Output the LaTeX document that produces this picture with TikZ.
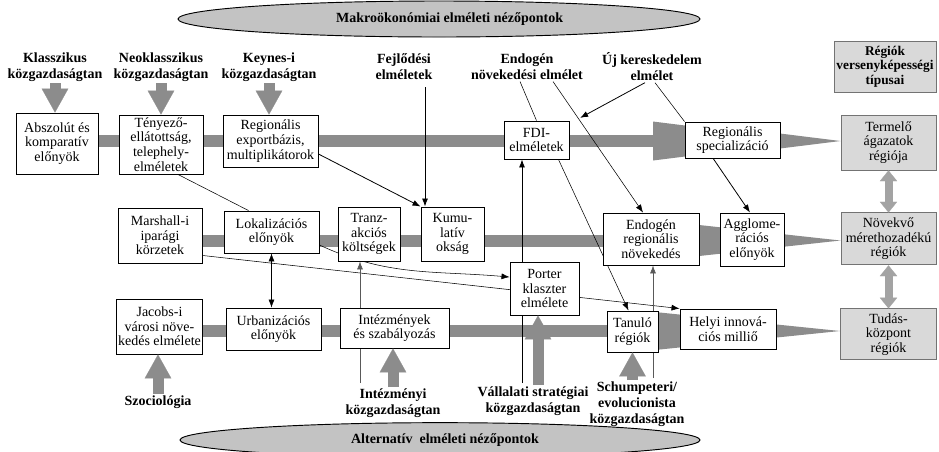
\documentclass[tikz,border=0pt]{standalone}
\usepackage{fontspec}
\setmainfont{Liberation Serif}
\usetikzlibrary{arrows.meta,positioning,shapes.geometric,backgrounds}
\definecolor{bandgray}{RGB}{140,140,140}
\definecolor{boxgray}{RGB}{217,217,217}
\definecolor{ovalgray}{RGB}{195,195,195}
\tikzset{
    box/.style={draw,fill=white,line width=0.7pt,align=center,inner sep=1pt,
        font=\fontsize{10.5}{11}\selectfont},
    greybox/.style={box,fill=boxgray,draw=black!55},
    src/.style={align=center,inner sep=1pt,font=\fontsize{10.5}{12}\selectfont\bfseries},
    oval/.style={ellipse,draw,fill=ovalgray,line width=0.7pt,inner sep=0pt},
    ovaltext/.style={font=\fontsize{10.5}{12}\selectfont\bfseries},
    band/.style={draw=bandgray,line width=9pt},
    head/.style={fill=bandgray},
    blk/.style={draw=bandgray,line width=8.25pt,
        -{Triangle[length=18pt,width=20pt,line width=0.1pt]}},
    dblblk/.style={draw=bandgray!80,line width=6pt,
        {Triangle[length=8pt,width=13pt,line width=0.1pt]}-{Triangle[length=8pt,width=13pt,line width=0.1pt]}},
    pre/.style={-{Latex[length=6pt,width=4.5pt]}},
    both/.style={{Latex[length=6pt,width=4.5pt]}-{Latex[length=6pt,width=4.5pt]}},
    ln/.style={thin}
}

\begin{document}
\begin{tikzpicture}[x=0.75pt,y=-0.75pt]
    \useasboundingbox (0,0) rectangle (939,451);

    % viewpoints
    \node[oval,minimum width=391.5pt,minimum height=27pt,
        label={[ovaltext,xshift=8pt]center:Makroökonómiai elméleti nézőpontok}] (makro) at (439,19) {};
    \node[oval,minimum width=390pt,minimum height=26pt,
        label={[ovaltext,xshift=3.75pt]center:Alternatív\ \ elméleti nézőpontok}] (altern) at (440,440) {};

    % schools
    \node[src] (klassz) at (55,67)  {Klasszikus\\közgazdaságtan};
    \node[src] (neo)    at (161,67) {Neoklasszikus\\közgazdaságtan};
    \node[src] (keynes) at (269,67) {Keynes-i\\közgazdaságtan};
    \node[src] (fejl)   at (404,67) {Fejlődési\\elméletek};
    \node[src] (endnov) at (527,67) {Endogén\\növekedési elmélet};
    \node[src] (ujker)  at (652,67) {Új kereskedelem\\elmélet};
    \node[src] (szoc)   at (158,402) {Szociológia};
    \node[src] (intezm) at (393,403) {Intézményi\\közgazdaságtan};
    \node[src] (vall)   at (533,401) {Vállalati stratégiai\\közgazdaságtan};
    \node[src] (schump) at (637,404) {Schumpeteri/\\evolucionista\\közgazdaságtan};

    % row 1
    \node[box,minimum width=61.5pt,minimum height=45.75pt] (absz)    at (57,143.5)  {Abszolút és\\komparatív\\előnyök};
    \node[box,minimum width=63pt,minimum height=44.25pt]   (teny)    at (161,144.5) {Tényező-\\ellátottság,\\telephely-\\elméletek};
    \node[box,minimum width=71.25pt,minimum height=39pt]   (regexp)  at (270.5,141) {Regionális\\exportbázis,\\multiplikátorok};
    \node[box,minimum width=48.75pt,minimum height=28.5pt] (fdi)     at (536.5,140) {FDI-\\elméletek};
    \node[box,minimum width=71.25pt,minimum height=27pt]   (regspec) at (732.5,140) {Regionális\\specializáció};

    % row 2
    \node[box,minimum width=63pt,minimum height=41.25pt]   (marsh)  at (160,235.5) {Marshall-i\\iparági\\körzetek};
    \node[box,minimum width=71.25pt,minimum height=31.5pt] (lokal)  at (271.5,232) {Lokalizációs\\előnyök};
    \node[box,minimum width=46.5pt,minimum height=40.5pt]  (tranz)  at (369,234)   {Tranz-\\akciós\\költségek};
    \node[box,minimum width=47.25pt,minimum height=40.5pt] (kumul)  at (452.5,234) {Kumu-\\latív\\okság};
    \node[box,minimum width=72pt,minimum height=39pt]      (endreg) at (651,239)   {Endogén\\regionális\\növekedés};
    \node[box,minimum width=48pt,minimum height=39.75pt]   (agglo)  at (752,239.5) {Agglome-\\rációs\\előnyök};

    % row 3
    \node[box,minimum width=63.75pt,minimum height=41.25pt] (jacobs) at (159.5,326.5) {Jacobs-i\\városi növe-\\kedés elmélete};
    \node[box,minimum width=71.25pt,minimum height=31.5pt]  (urban)  at (273.5,329)   {Urbanizációs\\előnyök};
    \node[box,minimum width=81.75pt,minimum height=30pt]    (intez)  at (394.5,328)   {Intézmények\\és szabályozás};
    \node[box,minimum width=51.75pt,minimum height=39.75pt] (porter) at (544.5,288.5) {Porter\\klaszter\\elmélete};
    \node[box,minimum width=38.25pt,minimum height=30.75pt] (tanulo) at (632.5,331.5) {Tanuló\\régiók};
    \node[box,minimum width=72pt,minimum height=30pt]       (helyi)  at (728,329)     {Helyi innová-\\ciós milliő};

    % region types
    \node[greybox,font=\fontsize{10}{11}\selectfont\bfseries,minimum width=76.5pt,minimum height=38.25pt] (tipus) at (885,66.5) {Régiók\\versenyképességi\\típusai};
    \node[greybox,minimum width=71.25pt,minimum height=41.25pt] (termelo) at (888.5,142.5) {Termelő\\ágazatok\\régiója};
    \node[greybox,minimum width=71.25pt,minimum height=39pt] (novekvo) [below=31.5pt of termelo] {Növekvő\\mérethozadékú\\régiók};
    \node[greybox,minimum width=72pt,minimum height=38.25pt] (tudas) [below=32.25pt of novekvo] {Tudás-\\központ\\régiók};

    \coordinate (row1) at (0,141);
    \coordinate (row2) at (0,240.5);
    \coordinate (row3) at (0,331);
    \coordinate (f1) at (425,87);
    \coordinate (i1) at (360,383);
    \coordinate (v1) at (522,383);
    \coordinate (s1) at (653,378);
    \coordinate (va) at ([xshift=3.75pt]vall.north);

    \begin{pgfonlayer}{background}
        % broad arrows of the rows
        \draw[band] (absz.east |- row1) -- (653,141);
        \fill[head] (653,121.5) -- (685,125.5) -- (685,156.5) -- (653,160.5) -- cycle;
        \fill[head] (780,133.5) -- (termelo.west |- row1) -- (780,148.5) -- cycle;
        \draw[band] (marsh.east |- row2) -- (640,240.5);
        \fill[head] (640,218.5) -- (novekvo.west |- row2) -- (640,262.5) -- cycle;
        \draw[band] (jacobs.east |- row3) -- (650,331);
        \fill[head] (650,311.5) -- (tudas.west |- row3) -- (650,350.5) -- cycle;

        % links
        \draw[pre,semithick] (f1) -- (f1 |- kumul.north);
        \draw[pre,semithick] ([yshift=-9.75pt]regexp.east) -- (kumul.north west);
        \draw[ln] ([xshift=12.75pt]teny.south) -- ([xshift=-17.25pt]lokal.north);
        \draw[ln] ([xshift=-5.25pt]endnov.south) -- (fdi.north);
        \draw[pre] ([xshift=19.5pt]endnov.south) -- ([xshift=-6pt]endreg.north);
        \draw[pre,semithick] ([xshift=-5.25pt]ujker.south) -- ([xshift=8pt,yshift=2pt]fdi.north east);
        \draw[ln] ([xshift=2.25pt]ujker.south) -- (regspec.north west);
        \draw[pre,semithick] ([xshift=-14.5pt]regspec.south) -- ([xshift=-1.5pt]agglo.north);
        \draw[pre] ([xshift=-8.25pt]fdi.south east) -- ([xshift=-3pt]tanulo.north);
        \draw[pre] ([yshift=6pt]marsh.south east) -- (helyi.north west);
        \draw[pre] ([yshift=-9.75pt]lokal.east) to[out=-25,in=175] ([yshift=8.6pt]porter.west);
        \draw[both] (lokal.south) -- (lokal.south |- urban.north);
        \draw[pre,draw=black!65] (i1) -- (i1 |- tranz.south);
        \draw[pre,semithick] (v1) -- (v1 |- fdi.south);
        \draw[pre,draw=black!65] (s1) -- (s1 |- endreg.south);
    \end{pgfonlayer}

    % influences
    \draw[blk] (klassz.south) -- (klassz.south |- absz.north);
    \draw[blk] (neo.south) -- (neo.south |- teny.north);
    \draw[blk] (keynes.south) -- (keynes.south |- regexp.north);
    \draw[blk] (szoc.north) -- (szoc.north |- jacobs.south);
    \draw[blk] (intezm.north) -- (intezm.north |- intez.south);
    \draw[blk] (va) -- (va |- porter.south);
    \draw[blk] (tanulo.south |- schump.north) -- (tanulo.south);
    \draw[dblblk] (termelo.south) -- (novekvo.north);
    \draw[dblblk] (novekvo.south) -- (tudas.north);

\end{tikzpicture}
\end{document}
